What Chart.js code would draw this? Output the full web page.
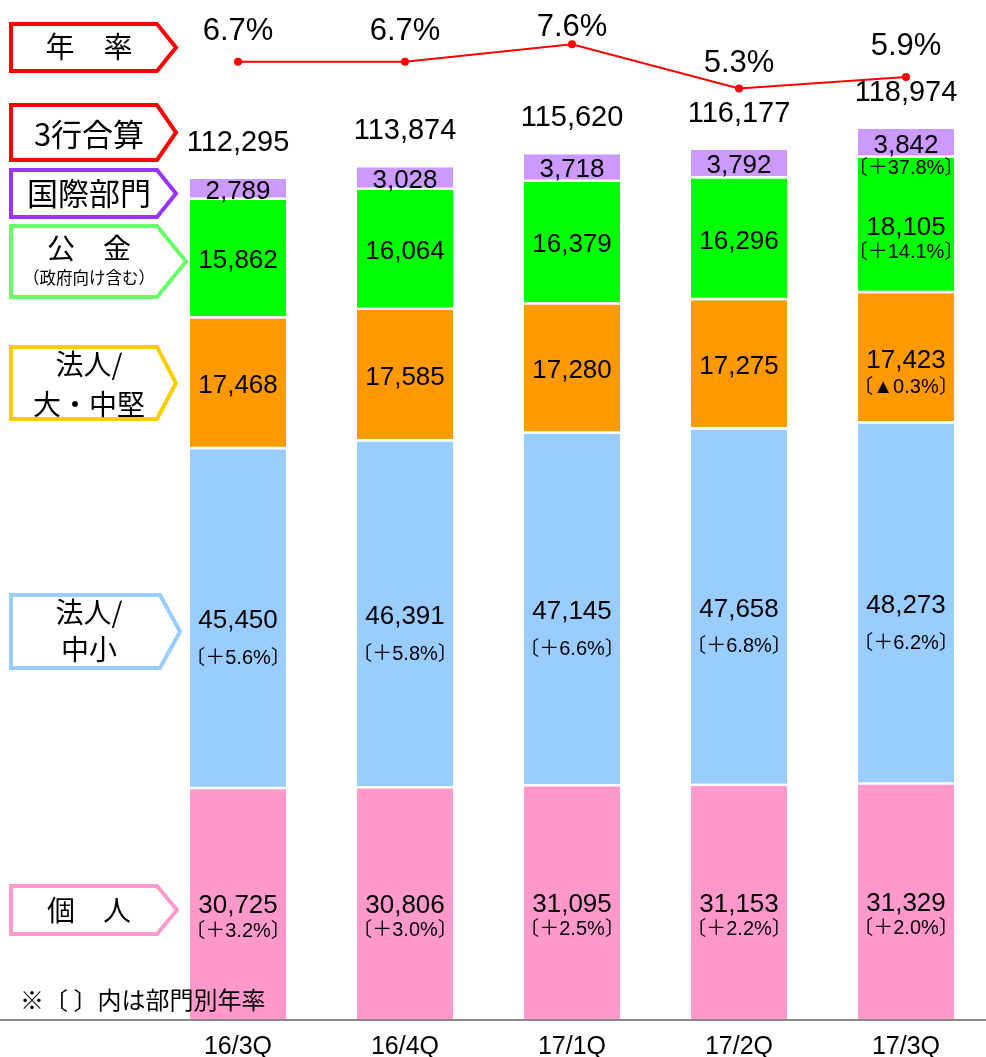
<!DOCTYPE html>
<html lang="ja">
<head>
<meta charset="utf-8">
<title>貸出金残高</title>
<script src="https://cdn.jsdelivr.net/npm/chart.js@4.4.0/dist/chart.umd.min.js"></script>
<style>
  html, body { margin: 0; padding: 0; background: #fff; overflow: hidden; }
  #wrap { position: relative; width: 1000px; height: 1057px; overflow: hidden; }
</style>
</head>
<body>
<div id="wrap"><canvas id="loanChart" width="1000" height="1057"></canvas></div>
<script>
// 期
const quarters = ["16/3Q", "16/4Q", "17/1Q", "17/2Q", "17/3Q"];

// 部門別残高（億円）
const kojin = [30725, 30806, 31095, 31153, 31329];
const chushou = [45450, 46391, 47145, 47658, 48273];
const daiChuken = [17468, 17585, 17280, 17275, 17423];
const kokin = [15862, 16064, 16379, 16296, 18105];
const kokusai = [2789, 3028, 3718, 3792, 3842];

// 3行合算と年率
const totals = [112295, 113874, 115620, 116177, 118974];
const nenritsu = [6.7, 6.7, 7.6, 5.3, 5.9];

// 〔 〕内は部門別年率
const kojinRate = ["＋3.2%", "＋3.0%", "＋2.5%", "＋2.2%", "＋2.0%"];
const chushouRate = ["＋5.6%", "＋5.8%", "＋6.6%", "＋6.8%", "＋6.2%"];
const daiChukenRate = [null, null, null, null, "▲0.3%"];
const kokinRate = [null, null, null, null, "＋14.1%"];
const kokusaiRate = [null, null, null, null, "＋37.8%"];

const FONT = '"Liberation Sans", Arial, "Noto Sans CJK JP", sans-serif';
const JP = '"Noto Sans CJK JP", sans-serif';

function fmt(v) {
    return v.toLocaleString("en-US");
}

const segmentRates = [kojinRate, chushouRate, daiChukenRate, kokinRate, kokusaiRate];
const subGap = [25, 37, 27, 25, 23];

// 左側の矢印ラベル
const leftBoxes = [
    { color: "#ff0000", y0: 24, y1: 71, xc: 157, xt: 176, lines: [["年　率", 29, 47]] },
    { color: "#ff0000", y0: 105, y1: 160, xc: 157, xt: 176, lines: [["3行合算", 31, 134]] },
    { color: "#9933ff", y0: 170, y1: 217, xc: 157, xt: 176, lines: [["国際部門", 31, 193]] },
    { color: "#66ff66", y0: 226, y1: 297, xc: 157, xt: 186, lines: [["公　金", 28, 248], ["（政府向け含む）", 16.5, 278]] },
    { color: "#ffcc00", y0: 347, y1: 419, xc: 157, xt: 176, lines: [["法人/", 28, 364], ["大・中堅", 28, 404]] },
    { color: "#99ccff", y0: 595, y1: 668, xc: 160, xt: 180, lines: [["法人/", 28, 612], ["中小", 28, 649]] },
    { color: "#ff99cc", y0: 886, y1: 934, xc: 157, xt: 177, lines: [["個　人", 28, 910]] }
];

const labelPlugin = {
    id: "labels",
    afterDatasetsDraw(chart) {
        const ctx = chart.ctx;
        ctx.save();
        ctx.fillStyle = "#000";
        ctx.textAlign = "center";
        ctx.textBaseline = "middle";

        // 棒の中の数値
        for (let d = 0; d < 5; d++) {
            const meta = chart.getDatasetMeta(d);
            const ds = chart.data.datasets[d];
            meta.data.forEach(function(bar, i) {
                const mid = (bar.y + bar.base) / 2 + 2;
                ctx.font = "26px " + FONT;
                ctx.fillText(fmt(ds.data[i]), bar.x, mid);
                const r = segmentRates[d][i];
                if (r) {
                    ctx.font = "20px " + FONT;
                    ctx.fillText("〔" + r + "〕", bar.x, mid + subGap[d]);
                }
            });
        }

        // 3行合算
        const top = chart.getDatasetMeta(4);
        ctx.font = "29px " + FONT;
        top.data.forEach(function(bar, i) {
            ctx.fillText(fmt(totals[i]), bar.x, bar.y - 36);
        });

        // 年率
        const lineMeta = chart.getDatasetMeta(5);
        const dy = [-30, -30, -17, -25, -31];
        ctx.font = "31px " + FONT;
        lineMeta.data.forEach(function(pt, i) {
            ctx.fillText(nenritsu[i].toFixed(1) + "%", pt.x, pt.y + dy[i]);
        });
        ctx.restore();
    },
    afterDraw(chart) {
        const ctx = chart.ctx;
        ctx.save();
        // 横軸の線
        const y0 = chart.scales.y.getPixelForValue(0) + 1;
        ctx.strokeStyle = "#888888";
        ctx.lineWidth = 2;
        ctx.beginPath();
        ctx.moveTo(0, y0);
        ctx.lineTo(986, y0);
        ctx.stroke();

        // 左の矢印ボックス
        leftBoxes.forEach(function(b) {
            ctx.beginPath();
            ctx.moveTo(11, b.y0);
            ctx.lineTo(b.xc, b.y0);
            ctx.lineTo(b.xt, (b.y0 + b.y1) / 2);
            ctx.lineTo(b.xc, b.y1);
            ctx.lineTo(11, b.y1);
            ctx.closePath();
            ctx.fillStyle = "#fff";
            ctx.fill();
            ctx.strokeStyle = b.color;
            ctx.lineWidth = 4;
            ctx.lineJoin = "miter";
            ctx.stroke();
            ctx.fillStyle = "#000";
            ctx.textAlign = "center";
            ctx.textBaseline = "middle";
            b.lines.forEach(function(l) {
                ctx.font = l[1] + "px " + JP;
                ctx.fillText(l[0], 89, l[2]);
            });
        });

        // 注記
        ctx.font = "24px " + JP;
        ctx.textAlign = "left";
        ctx.fillText("※〔 〕内は部門別年率", 20, 1000);
        ctx.restore();
    }
};

function barSet(label, data, color, gap) {
    return {
        type: "bar",
        label: label,
        data: data,
        backgroundColor: color,
        borderColor: "#ffffff",
        borderWidth: gap ? { top: 0, right: 0, bottom: 2.5, left: 0 } : 0,
        borderSkipped: false,
        barPercentage: 0.575,
        categoryPercentage: 1,
        yAxisID: "y",
        order: 1
    };
}

const ctx = document.getElementById("loanChart").getContext("2d");
new Chart(ctx, {
    data: {
        labels: quarters,
        datasets: [
            barSet("個人", kojin, "#ff99cc", false),
            barSet("法人/中小", chushou, "#99ccff", true),
            barSet("法人/大・中堅", daiChuken, "#ff9900", true),
            barSet("公金", kokin, "#00ff00", true),
            barSet("国際部門", kokusai, "#cc99ff", true),
            {
                type: "line",
                label: "年率",
                data: nenritsu,
                borderColor: "#ff0000",
                backgroundColor: "#ff0000",
                borderWidth: 2,
                pointRadius: 4,
                pointBackgroundColor: "#ff0000",
                pointBorderWidth: 0,
                tension: 0,
                yAxisID: "y2",
                order: 0
            }
        ]
    },
    options: {
        responsive: false,
        devicePixelRatio: 1,
        animation: false,
        layout: { padding: { left: 154.5, right: 10.5, top: 0, bottom: 0 } },
        plugins: {
            legend: { display: false },
            tooltip: { enabled: false }
        },
        scales: {
            x: {
                stacked: true,
                grid: { display: false, drawTicks: false },
                border: { display: false },
                ticks: {
                    color: "#000",
                    padding: 16,
                    font: { family: FONT, size: 25, lineHeight: 1 }
                },
                afterFit: function(scale) {
                    scale.height = 38;
                }
            },
            y: {
                stacked: true,
                display: false,
                min: 0,
                max: 135700
            },
            y2: {
                display: false,
                min: -43.1,
                max: 9.7
            }
        }
    },
    plugins: [labelPlugin]
});
</script>
</body>
</html>
